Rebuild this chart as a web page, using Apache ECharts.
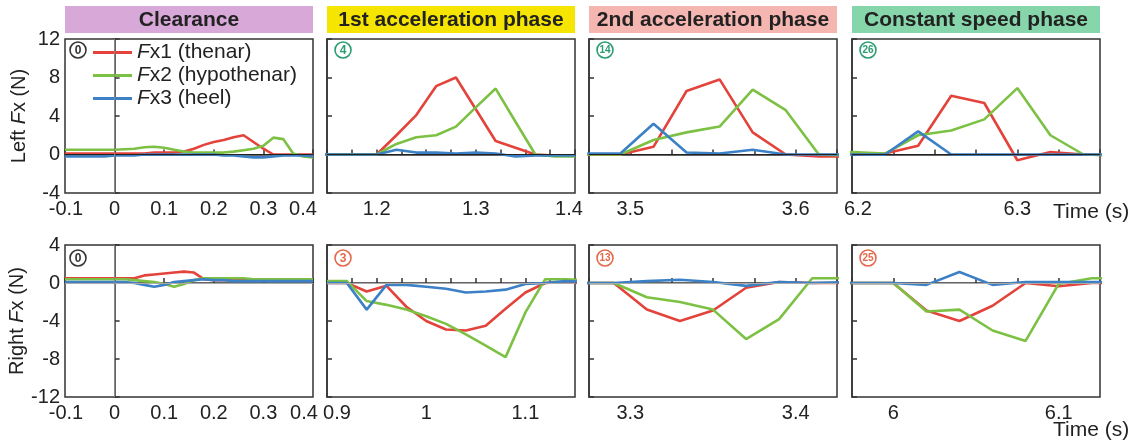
<!DOCTYPE html>
<html>
<head>
<meta charset="utf-8">
<script src="https://cdn.jsdelivr.net/npm/echarts@6/dist/echarts.min.js"></script>
<style>
html,body{margin:0;padding:0;background:#fff;}
#c{width:1143px;height:443px;}
</style>
</head>
<body>
<div id="c"></div>
<script>
// ---------- data ----------
const seriesNames = ['Fx1 (thenar)', 'Fx2 (hypothenar)', 'Fx3 (heel)'];
const phaseTitles = ['Clearance', '1st acceleration phase', '2nd acceleration phase', 'Constant speed phase'];
const badgeTop = ['0', '4', '14', '26'];
const badgeBottom = ['0', '3', '13', '25'];

// Left (top row)
const tL1 = [-0.1,-0.08,-0.06,-0.04,-0.02,0,0.02,0.04,0.06,0.08,0.1,0.12,0.14,0.16,0.18,0.2,0.22,0.24,0.26,0.28,0.3,0.32,0.34,0.36,0.38,0.4];
const fx1L1 = [0.1,0.1,0.1,0.1,0.1,0.1,0.1,0.1,0.1,0.2,0.2,0.2,0.3,0.6,1.0,1.3,1.5,1.8,2.0,1.3,0.6,0.0,0.0,0.0,0.0,0.0];
const fx2L1 = [0.5,0.5,0.5,0.5,0.5,0.5,0.55,0.6,0.75,0.8,0.7,0.5,0.3,0.2,0.2,0.2,0.2,0.3,0.45,0.6,0.9,1.75,1.6,0.1,-0.2,-0.3];
const fx3L1 = [-0.2,-0.2,-0.2,-0.2,-0.2,-0.1,-0.1,-0.1,0,0,0,0,0,0,0,0,-0.1,-0.1,-0.2,-0.3,-0.3,-0.2,-0.1,-0.1,-0.1,-0.2];

const tL2 = [1.14,1.16,1.18,1.2,1.22,1.24,1.26,1.28,1.3,1.32,1.34,1.36,1.38,1.4];
const fx1L2 = [0,0,0,0,2.0,4.1,7.1,8.0,4.7,1.4,0.7,0,-0.1,-0.1];
const fx2L2 = [0,0,0,0,1.1,1.8,2.0,2.9,4.9,6.85,3.4,0,-0.2,-0.2];
const fx3L2 = [0,0,0,0,0.5,0.2,0.2,0.1,0.2,0.1,-0.2,-0.1,-0.1,-0.1];

const tL3 = [3.474,3.494,3.514,3.534,3.554,3.574,3.594,3.614,3.634];
const fx1L3 = [0,0,0.8,6.6,7.8,2.3,0,-0.2,-0.2];
const fx2L3 = [0,0,1.5,2.3,2.9,6.75,4.6,0,-0.1];
const fx3L3 = [0.1,0.1,3.2,0.2,0.1,0.5,0,0,0];

const tL4 = [6.18,6.2,6.22,6.24,6.26,6.28,6.3,6.32,6.34,6.36];
const fx1L4 = [0.1,0.1,0.1,0.9,6.1,5.35,-0.6,0.25,0,-0.1];
const fx2L4 = [0.3,0.25,0.1,2.0,2.5,3.65,6.9,2.0,0,-0.1];
const fx3L4 = [0,0,0,2.4,0,0,0,0,0,0];

// Right (bottom row)
const tR1 = [-0.1,-0.08,-0.06,-0.04,-0.02,0,0.02,0.04,0.06,0.08,0.1,0.12,0.14,0.16,0.18,0.2,0.22,0.24,0.26,0.28,0.3,0.32,0.34,0.36,0.38,0.4];
const fx1R1 = [0.5,0.5,0.5,0.5,0.5,0.5,0.5,0.5,0.8,0.9,1.0,1.1,1.2,1.1,0.4,0.3,0.3,0.3,0.3,0.3,0.3,0.3,0.3,0.3,0.3,0.3];
const fx2R1 = [0.4,0.4,0.4,0.4,0.4,0.4,0.4,0.3,0.2,0.1,-0.1,-0.4,-0.1,0.3,0.5,0.5,0.5,0.5,0.5,0.4,0.4,0.4,0.4,0.4,0.4,0.4];
const fx3R1 = [0.1,0.1,0.1,0.1,0.1,0.1,0.1,0,-0.2,-0.4,-0.2,0.1,0.2,0.3,0.4,0.3,0.3,0.2,0.2,0.2,0.2,0.2,0.2,0.2,0.2,0.2];

const tR2 = [0.9,0.92,0.94,0.96,0.98,1.0,1.02,1.04,1.06,1.08,1.1,1.12,1.14,1.16];
const fx1R2 = [0,0,-0.9,-0.3,-2.5,-4.0,-4.9,-5.0,-4.5,-2.7,-1.0,0,0.1,0];
const fx2R2 = [0.2,0.2,-1.9,-2.3,-2.8,-3.5,-4.3,-5.4,-6.6,-7.8,-3.1,0.4,0.4,0.3];
const fx3R2 = [0,0,-2.8,-0.2,-0.2,-0.4,-0.6,-1.0,-0.9,-0.7,-0.1,0,0.2,0.1];

const tR3 = [3.27,3.29,3.31,3.33,3.35,3.37,3.39,3.41,3.43];
const fx1R3 = [0,0,-2.8,-4.0,-2.9,-0.5,0.1,0,0];
const fx2R3 = [0,0,-1.5,-2.0,-2.8,-5.9,-3.8,0.5,0.5];
const fx3R3 = [0,0,0.2,0.35,0.1,-0.3,0.1,0,0.1];

const tR4 = [5.96,5.98,6.0,6.02,6.04,6.06,6.08,6.1,6.12,6.14];
const fx1R4 = [0,0,0,-2.9,-4.0,-2.4,0,-0.35,0,0];
const fx2R4 = [0,0,0,-3.0,-2.8,-5.0,-6.1,-0.1,0.5,0.5];
const fx3R4 = [0,0,0,-0.2,1.15,-0.2,0.1,0.1,0.1,0.1];

// axis ranges [min, max, interval]
const xRangesTop = [[-0.1,0.4,0.1],[1.15,1.4,0.025],[3.475,3.625,0.025],[6.2,6.35,0.025]];
const xRangesBottom = [[-0.1,0.4,0.1],[0.9,1.15,0.025],[3.275,3.425,0.025],[5.975,6.125,0.025]];
const yRangeTop = [-4, 12, 4];
const yRangeBottom = [-12, 4, 4];

// ---------- styling / layout ----------
const FONT = "'Liberation Sans', Arial, sans-serif";
const colors = ['#e3433b', '#7cc143', '#3c80c6'];
const headerColors = ['#d7a8d8', '#f6e500', '#f5b5b1', '#87d5aa'];
const lefts = [65, 327, 589, 852];
const W = 248;
// horizontal nudges (px) of edge tick labels [minLabelShift, maxLabelShift] per panel
const edgeShiftTop = [[1, -10], [0, -6], [0, 0], [6, 0]];
const edgeShiftBottom = [[1, -9], [10, 0], [0, 0], [0, 0]];

const rows = [
  {top: 39, height: 154, xr: xRangesTop, yr: yRangeTop, zeroColor: '#222', name: 'Left', shift: edgeShiftTop,
   t: [tL1,tL2,tL3,tL4], v: [[fx1L1,fx2L1,fx3L1],[fx1L2,fx2L2,fx3L2],[fx1L3,fx2L3,fx3L3],[fx1L4,fx2L4,fx3L4]]},
  {top: 245, height: 152, xr: xRangesBottom, yr: yRangeBottom, zeroColor: '#aaa', name: 'Right', shift: edgeShiftBottom,
   t: [tR1,tR2,tR3,tR4], v: [[fx1R1,fx2R1,fx3R1],[fx1R2,fx2R2,fx3R2],[fx1R3,fx2R3,fx3R3],[fx1R4,fx2R4,fx3R4]]}
];

function shiftStyle(s) {
  // shifting a centred label by s px via asymmetric padding
  const pad = s > 0 ? [0, 0, 0, 2 * s] : [0, -2 * s, 0, 0];
  return {fontSize: 20, fontFamily: FONT, color: '#222', padding: pad};
}

const grid = [], xAxis = [], yAxis = [], series = [], graphic = [];
let gi = 0;
rows.forEach((row, r) => {
  for (let p = 0; p < 4; p++) {
    grid.push({left: lefts[p], top: row.top, width: W, height: row.height, show: true,
      borderColor: '#333', borderWidth: 1.5, backgroundColor: 'transparent', containLabel: false});
    const xr = row.xr[p];
    const sh = row.shift[p];
    xAxis.push({type: 'value', gridIndex: gi, min: xr[0], max: xr[1], interval: xr[2],
      axisLine: {show: true, lineStyle: {color: '#333', width: 1.5}},
      axisTick: {show: true, inside: true, length: 5, lineStyle: {color: '#333', width: 1.5}},
      splitLine: {show: false},
      axisLabel: {show: true, showMinLabel: true, showMaxLabel: true, margin: 6, color: '#222',
        fontSize: 20, fontFamily: FONT,
        rich: {lo: shiftStyle(sh[0]), hi: shiftStyle(sh[1])},
        formatter: ((mn, mx) => v => {
          const k = v * 10;
          if (Math.abs(k - Math.round(k)) > 1e-6) return '';
          const txt = String(Math.round(k) / 10);
          if (Math.abs(v - mn) < 1e-9) return '{lo|' + txt + '}';
          if (Math.abs(v - mx) < 1e-9) return '{hi|' + txt + '}';
          return txt;
        })(xr[0], xr[1])}
    });
    const yr = row.yr;
    yAxis.push({type: 'value', gridIndex: gi, min: yr[0], max: yr[1], interval: yr[2],
      axisLine: {show: true, lineStyle: {color: '#333', width: 1.5}},
      axisTick: {show: true, inside: true, length: 5, lineStyle: {color: '#333', width: 1.5}},
      splitLine: {show: false},
      axisLabel: {show: p === 0, margin: 5, color: '#222', fontSize: 20, fontFamily: FONT},
      name: p === 0 ? '{n|' + row.name + ' }{i|F}{n|x (N)}' : '',
      nameLocation: 'middle', nameRotate: 90, nameGap: 36,
      nameTextStyle: {rich: {
        n: {fontSize: 20, fontFamily: FONT, color: '#222'},
        i: {fontSize: 20, fontFamily: FONT, fontStyle: 'italic', color: '#222'}}}
    });
    for (let s = 0; s < 3; s++) {
      const ts = row.t[p], vs = row.v[p][s];
      const ser = {type: 'line', name: seriesNames[s], xAxisIndex: gi, yAxisIndex: gi,
        data: ts.map((t, i) => [t, vs[i]]), showSymbol: false, symbol: 'none', clip: true,
        lineStyle: {color: colors[s], width: 2.6}, itemStyle: {color: colors[s]},
        animation: false, silent: true};
      if (s === 0) {
        const ml = [{yAxis: 0, lineStyle: {color: row.zeroColor, width: 1, type: 'solid'}}];
        if (p === 0) ml.push({xAxis: 0, lineStyle: {color: '#888', width: 1, type: 'solid'}});
        ser.markLine = {silent: true, symbol: ['none', 'none'], label: {show: false}, animation: false, data: ml};
      }
      series.push(ser);
    }
    // badge
    const badgeText = r === 0 ? badgeTop[p] : badgeBottom[p];
    const bc = p === 0 ? '#333' : (r === 0 ? '#2a9d72' : '#e5694c');
    const cx = lefts[p] + (p === 0 ? 13 : 16);
    const cy = r === 0 ? 50 : 258;
    graphic.push({type: 'circle', shape: {cx: cx, cy: cy, r: 8}, style: {fill: '#fff', stroke: bc, lineWidth: 1.6}, z: 100});
    graphic.push({type: 'text', x: cx, y: cy + 0.5, style: {text: badgeText, fill: bc, font: 'bold ' + (badgeText.length > 1 ? 10 : 12) + 'px ' + FONT, align: 'center', verticalAlign: 'middle'}, z: 101});
    gi++;
  }
});

// headers
for (let p = 0; p < 4; p++) {
  graphic.push({type: 'rect', shape: {x: lefts[p], y: 6, width: W, height: 27}, style: {fill: headerColors[p]}, z: 50});
  graphic.push({type: 'text', x: lefts[p] + W / 2, y: 20, style: {text: phaseTitles[p], fill: '#222',
    font: 'bold 21px ' + FONT, align: 'center', verticalAlign: 'middle'}, z: 51});
}
// Time (s)
graphic.push({type: 'text', x: 1053, y: 212, style: {text: 'Time (s)', fill: '#222', font: '21px ' + FONT, verticalAlign: 'middle'}});
graphic.push({type: 'text', x: 1053, y: 430, style: {text: 'Time (s)', fill: '#222', font: '21px ' + FONT, verticalAlign: 'middle'}});

const chart = echarts.init(document.getElementById('c'), null, {renderer: 'canvas'});
chart.setOption({
  animation: false,
  backgroundColor: '#fff',
  grid, xAxis, yAxis, series, graphic,
  legend: {
    data: seriesNames, orient: 'vertical', left: 93, top: 42, padding: 0, itemWidth: 39, itemHeight: 3, itemGap: 2,
    icon: 'rect', selectedMode: false,
    formatter: name => '{i|F}{n|' + name.slice(1) + '}',
    textStyle: {rich: {
      n: {fontSize: 21, fontFamily: FONT, color: '#222', lineHeight: 22},
      i: {fontSize: 21, fontFamily: FONT, fontStyle: 'italic', color: '#222', lineHeight: 22}}}
  }
});
</script>
</body>
</html>
